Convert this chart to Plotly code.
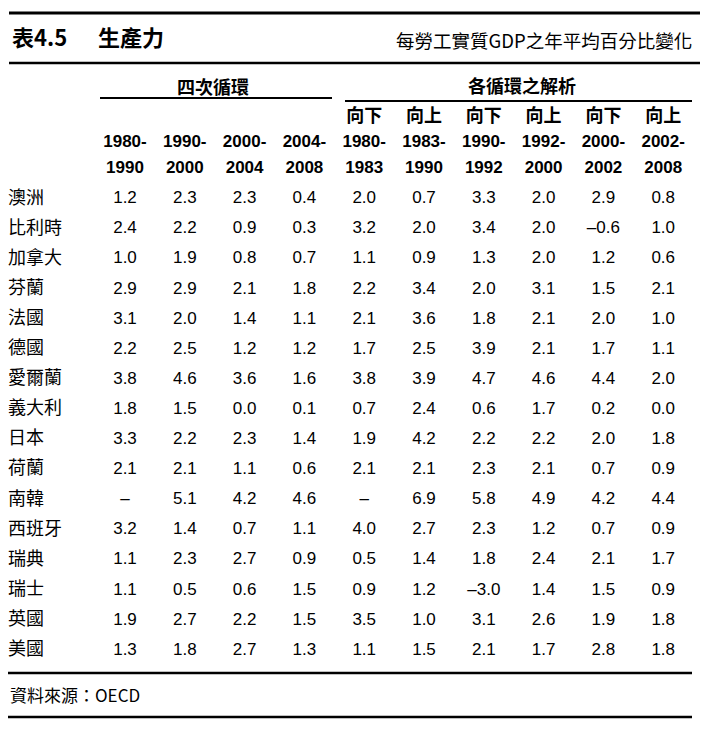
import plotly.graph_objects as go

# 資料
countries = ["澳洲", "比利時", "加拿大", "芬蘭", "法國", "德國", "愛爾蘭", "義大利",
             "日本", "荷蘭", "南韓", "西班牙", "瑞典", "瑞士", "英國", "美國"]

period_start = ["1980-", "1990-", "2000-", "2004-", "1980-", "1983-", "1990-", "1992-", "2000-", "2002-"]
period_end = ["1990", "2000", "2004", "2008", "1983", "1990", "1992", "2000", "2002", "2008"]
direction = ["", "", "", "", "向下", "向上", "向下", "向上", "向下", "向上"]

p1980_1990 = [1.2, 2.4, 1.0, 2.9, 3.1, 2.2, 3.8, 1.8, 3.3, 2.1, None, 3.2, 1.1, 1.1, 1.9, 1.3]
p1990_2000 = [2.3, 2.2, 1.9, 2.9, 2.0, 2.5, 4.6, 1.5, 2.2, 2.1, 5.1, 1.4, 2.3, 0.5, 2.7, 1.8]
p2000_2004 = [2.3, 0.9, 0.8, 2.1, 1.4, 1.2, 3.6, 0.0, 2.3, 1.1, 4.2, 0.7, 2.7, 0.6, 2.2, 2.7]
p2004_2008 = [0.4, 0.3, 0.7, 1.8, 1.1, 1.2, 1.6, 0.1, 1.4, 0.6, 4.6, 1.1, 0.9, 1.5, 1.5, 1.3]
d1980_1983 = [2.0, 3.2, 1.1, 2.2, 2.1, 1.7, 3.8, 0.7, 1.9, 2.1, None, 4.0, 0.5, 0.9, 3.5, 1.1]
u1983_1990 = [0.7, 2.0, 0.9, 3.4, 3.6, 2.5, 3.9, 2.4, 4.2, 2.1, 6.9, 2.7, 1.4, 1.2, 1.0, 1.5]
d1990_1992 = [3.3, 3.4, 1.3, 2.0, 1.8, 3.9, 4.7, 0.6, 2.2, 2.3, 5.8, 2.3, 1.8, -3.0, 3.1, 2.1]
u1992_2000 = [2.0, 2.0, 2.0, 3.1, 2.1, 2.1, 4.6, 1.7, 2.2, 2.1, 4.9, 1.2, 2.4, 1.4, 2.6, 1.7]
d2000_2002 = [2.9, -0.6, 1.2, 1.5, 2.0, 1.7, 4.4, 0.2, 2.0, 0.7, 4.2, 0.7, 2.1, 1.5, 1.9, 2.8]
u2002_2008 = [0.8, 1.0, 0.6, 2.1, 1.0, 1.1, 2.0, 0.0, 1.8, 0.9, 4.4, 0.9, 1.7, 0.9, 1.8, 1.8]

columns = [p1980_1990, p1990_2000, p2000_2004, p2004_2008, d1980_1983,
           u1983_1990, d1990_1992, u1992_2000, d2000_2002, u2002_2008]

W, H = 708, 731
PAD = 6  # page margin of the html body is 8, keep a little room on the left
FONT = "Liberation Sans, Arial, Noto Sans CJK TC, sans-serif"
CJK = "Noto Sans CJK TC, Liberation Sans, sans-serif"
INK = "#000"

# 版面 (像素座標)
col_x0, col_dx = 125, 59.8
row_y0, row_dy = 199, 30.1
col_x = [col_x0 + i * col_dx for i in range(len(columns))]
row_y = [row_y0 + i * row_dy for i in range(len(countries))]


def fmt(v):
    if v is None:
        return "–"
    return f"{v:.1f}".replace("-", "–")


def text_trace(x, y, labels, family, size, pos="middle center"):
    return go.Scatter(
        x=x, y=y, mode="text", text=labels, textposition=pos,
        textfont=dict(family=family, size=size, color=INK),
        cliponaxis=False, hoverinfo="skip", showlegend=False)


fig = go.Figure()

# 數值
for cx, vals in zip(col_x, columns):
    fig.add_trace(text_trace([cx] * len(vals), row_y, [fmt(v) for v in vals], FONT, 17))

# 國家
fig.add_trace(text_trace([8] * len(countries), row_y, countries, CJK, 18, "middle right"))

# 表頭
fig.add_trace(text_trace(col_x, [143] * len(col_x), [f"<b>{s}</b>" for s in period_start], FONT, 17))
fig.add_trace(text_trace(col_x, [169] * len(col_x), [f"<b>{s}</b>" for s in period_end], FONT, 17))
fig.add_trace(text_trace(col_x, [117] * len(col_x),
                         [f"<b>{s}</b>" if s else "" for s in direction], CJK, 18))

annotations = [
    dict(x=10, y=36, text="<b>表4.5</b>", xanchor="left", font=dict(family=CJK, size=22)),
    dict(x=96, y=36, text="<b>生產力</b>", xanchor="left", font=dict(family=CJK, size=22)),
    dict(x=694, y=40, text="每勞工實質GDP之年平均百分比變化", xanchor="right", font=dict(family=CJK, size=18.5)),
    dict(x=213, y=86, text="<b>四次循環</b>", xanchor="center", font=dict(family=CJK, size=18)),
    dict(x=522, y=85, text="<b>各循環之解析</b>", xanchor="center", font=dict(family=CJK, size=18)),
    dict(x=8, y=694, text="資料來源：OECD", xanchor="left", font=dict(family=CJK, size=17)),
]
for a in annotations:
    a.update(xref="x", yref="y", yanchor="middle", showarrow=False)
    a["font"]["color"] = INK

lines = [
    (9, 700, 13, 3), (9, 700, 63, 2.5),
    (100, 332, 98, 2), (345, 692, 101, 2),
    (7, 692, 673, 2.5), (7, 692, 717, 2.5),
]
shapes = [dict(type="line", x0=a, x1=b, y0=y, y1=y, xref="x", yref="y",
               line=dict(color=INK, width=w)) for a, b, y, w in lines]

fig.update_layout(
    width=W - 8, height=H - 8,
    margin=dict(l=0, r=0, t=0, b=0),
    paper_bgcolor="white", plot_bgcolor="white",
    xaxis=dict(range=[8, W], visible=False, fixedrange=True),
    yaxis=dict(range=[H, 8], visible=False, fixedrange=True),
    annotations=annotations, shapes=shapes,
)

fig.write_html("out.html")
